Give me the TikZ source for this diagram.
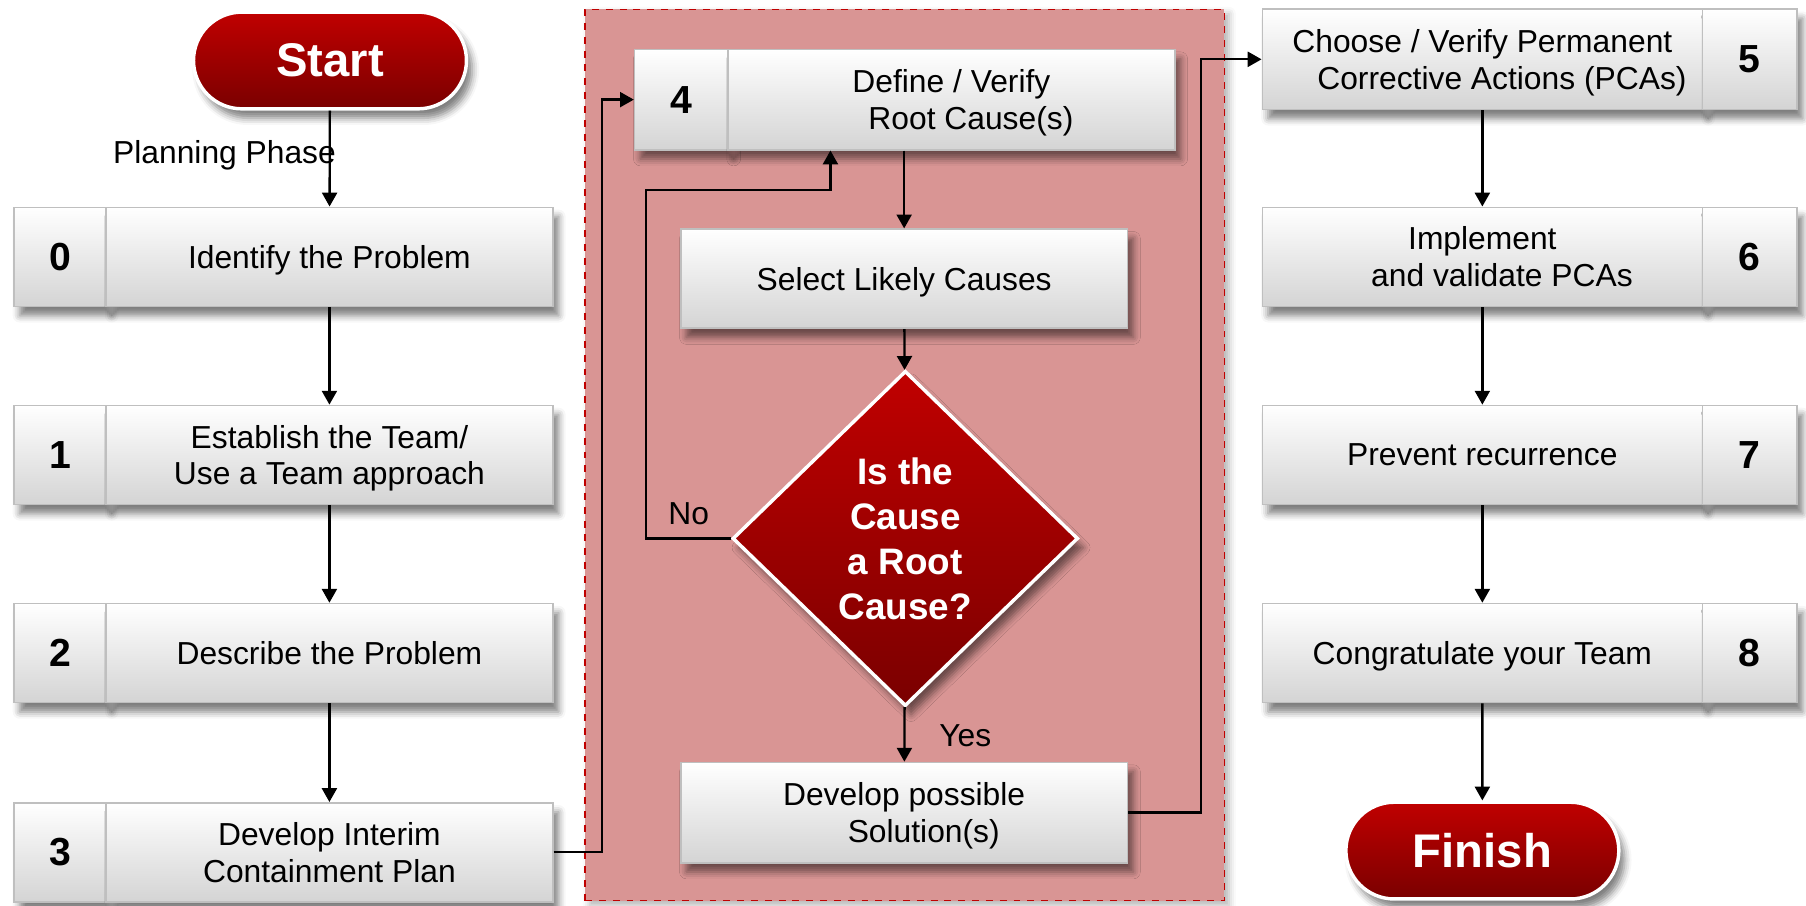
\documentclass[tikz,border=0pt]{standalone}
\usepackage{fontspec}
\setmainfont{Liberation Sans}
\usetikzlibrary{arrows.meta,shapes.geometric,shapes.misc,shadows.blur,calc}
\definecolor{regionfill}{HTML}{D99594}
\definecolor{regionedge}{HTML}{C00000}
\definecolor{redtop}{HTML}{C00000}
\definecolor{redbot}{HTML}{7A0000}
\definecolor{cellbot}{HTML}{D4D4D4}
\definecolor{celledge}{HTML}{BFBFBF}

\begin{document}
\begin{tikzpicture}[x=0.5pt,y=-0.5pt,
 boxshadow/.style={blur shadow={shadow xshift=2.5pt,shadow yshift=-4pt,shadow opacity=50,shadow blur radius=3pt}},
 cell/.style={rectangle,draw=celledge,line width=0.7pt,top color=white,bottom color=cellbot,inner sep=0pt,minimum height=43pt,boxshadow},
 txtcell/.style={cell,minimum width=194pt,align=center,text depth=0pt,font=\fontsize{13.8}{16}\selectfont},
 numcell/.style={cell,minimum width=40pt,font=\fontsize{17}{20}\selectfont\bfseries},
 pill/.style={rounded rectangle,draw=white,line width=1.5pt,top color=redtop,bottom color=redbot,minimum width=118.5pt,minimum height=42pt,inner sep=0pt,text=white,font=\fontsize{20.5}{24}\selectfont\bfseries,boxshadow},
 decision/.style={diamond,draw=white,line width=1.5pt,top color=redtop,bottom color=redbot,minimum width=150pt,minimum height=145.5pt,inner sep=0pt,text=white,align=center,font=\fontsize{16}{19.5}\selectfont\bfseries,boxshadow},
 lbl/.style={font=\fontsize{13.8}{16}\selectfont,inner sep=0pt},
 arr/.style={draw=black,line width=1pt,-{Triangle[length=6pt,width=6.5pt]}}
]
\useasboundingbox (0,0) rectangle (1568,786);

% root-cause analysis area
\node[rectangle,draw=regionedge,dashed,fill=regionfill,line width=0.6pt,
      minimum width=277.5pt,minimum height=387pt,inner sep=0pt,
      blur shadow={shadow xshift=2pt,shadow yshift=-2pt,shadow opacity=30,shadow blur radius=3pt}]
      (region) at (785.5,395) {};

% start / finish terminals
\node[pill] (start) at (286.5,52.5) {Start};
\node[pill] (finish) at (1287,738.5) {Finish};

% left column: steps 0-3
\node[numcell] (n0) at (52,223) {0};
\node[txtcell] (t0) at (286,223) {Identify the Problem};
\node[numcell] (n1) at (52,395) {1};
\node[txtcell] (t1) at (286,395) {Establish the Team/\\Use a Team approach};
\node[numcell] (n2) at (52,567) {2};
\node[txtcell] (t2) at (286,567) {Describe the Problem};
\node[numcell] (n3) at (52,740) {3};
\node[txtcell] (t3) at (286,740) {Develop Interim\\Containment Plan};

% middle column: step 4 loop
\node[numcell,minimum height=43.5pt,minimum width=40.5pt] (n4) at (591.5,86.5) {4};
\node[txtcell,minimum height=43.5pt] (t4) at (826,86.5) {Define / Verify\\\hspace*{17pt}Root Cause(s)};
\node[txtcell] (sel) at (785,242) {Select Likely Causes};
\node[decision] (dec) at (786,467.5) {Is the\\Cause\\a Root\\Cause?};
\node[txtcell,minimum height=43.5pt] (dev) at (785,705.5) {Develop possible\\\hspace*{17pt}Solution(s)};

% right column: steps 5-8
\node[txtcell,minimum width=191pt,minimum height=43.5pt] (t5) at (1287,51.5) {Choose / Verify Permanent\\\hspace*{17pt}Corrective Actions (PCAs)};
\node[numcell,minimum width=41pt,minimum height=43.5pt] (n5) at (1519,51.5) {5};
\node[txtcell,minimum width=191pt] (t6) at (1287,223) {Implement\\\hspace*{17pt}and validate PCAs};
\node[numcell,minimum width=41pt] (n6) at (1519,223) {6};
\node[txtcell,minimum width=191pt] (t7) at (1287,395) {Prevent recurrence};
\node[numcell,minimum width=41pt] (n7) at (1519,395) {7};
\node[txtcell,minimum width=191pt] (t8) at (1287,567) {Congratulate your Team};
\node[numcell,minimum width=41pt] (n8) at (1519,567) {8};

% labels
\node[lbl,anchor=east] (plan) at (292,135) {Planning Phase};
\node[lbl] (no) at (598,446) {No};
\node[lbl] (yes) at (838,639) {Yes};

% connectors
\draw[arr] (start) -- (t0);
\draw[arr] (t0) -- (t1);
\draw[arr] (t1) -- (t2);
\draw[arr] (t2) -- (t3);
\draw[arr] (t3.east) -- ++(42,0) |- (n4.west);
\draw[arr] (sel.north |- t4.south) -- (sel);
\draw[arr] (sel) -- (dec);
\coordinate (noturn) at (561,165);
\draw[arr] (dec.west) -| (noturn) -| ([xshift=-52.5pt]t4.south);
\draw[arr] (dec) -- (dev);
\draw[arr] (dev.east) -- ++(63,0) |- (t5.west);
\draw[arr] (t5) -- (t6);
\draw[arr] (t6) -- (t7);
\draw[arr] (t7) -- (t8);
\draw[arr] (t8) -- (finish);
\end{tikzpicture}
\end{document}
